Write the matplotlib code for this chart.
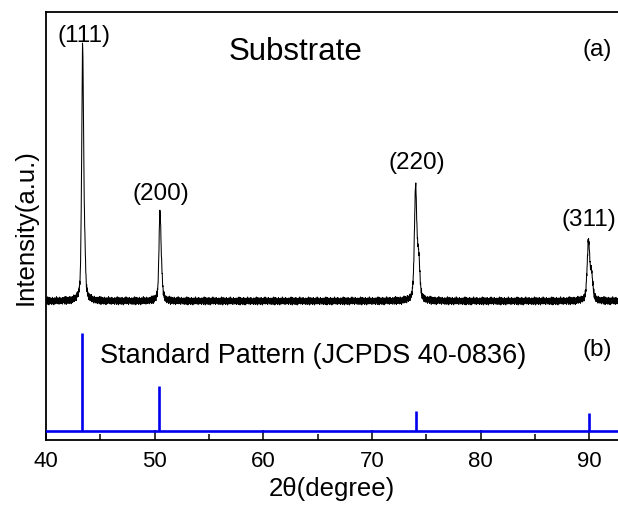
import numpy as np
import matplotlib
matplotlib.use("Agg")
import matplotlib.pyplot as plt
from matplotlib.ticker import MultipleLocator

plt.rcParams['font.family'] = ['Liberation Sans', 'DejaVu Sans']

# ---- data ----
# measured substrate pattern: peak positions (2theta), heights above background, FWHM
peak_pos = [43.37, 43.55, 50.49, 50.65, 74.02, 74.30, 89.93, 90.22]
peak_height = [250, 40, 86, 14, 112, 40, 58, 24]
peak_fwhm = [0.20, 0.20, 0.22, 0.22, 0.26, 0.26, 0.28, 0.28]
background = 139
# background noise (read-off texture, repeated along the scan)
noise = [1.5, -2.0, 3.0, -1.0, 0.5, -3.5, 2.5, -0.5, 4.0, -2.5,
         1.0, -1.5, 2.0, -4.0, 0.0, 3.5, -2.0, 1.5, -3.0, 2.5,
         -1.0, 0.5, 3.0, -2.5, 1.0, -0.5, -3.5, 2.0, 0.5, -1.5,
         3.5, -3.0, 1.0, 2.0, -2.0, 0.0, -4.0, 2.5, 1.5, -1.0,
         -2.5, 3.0, 0.5, -3.0, 2.0, -0.5, 1.5, -2.0, 4.0, -1.5,
         0.0, -3.0, 2.5, 1.0, -2.0, 3.0, -1.0, -2.5, 1.5, 0.5,
         -3.5, 2.0, -0.5, 3.5, -1.5, 0.5, -2.0, 2.5, -3.0, 1.0,
         0.0, 2.0, -2.5, 1.5, -1.0, 3.0, -3.5, 0.5, 1.0, -2.0]

# standard pattern (JCPDS 40-0836)
std_pos = [43.30, 50.44, 74.08, 89.95]
std_int = [98, 45, 20, 18]
std_base = 9.3

x_ticks = [40, 50, 60, 70, 80, 90]
peak_labels = ["(111)", "(200)", "(220)", "(311)"]

# ---- build profile ----
two_theta = np.arange(40.0, 92.7, 0.02)
profile = np.full_like(two_theta, float(background))
for p, h, w in zip(peak_pos, peak_height, peak_fwhm):
    g = np.exp(-4 * np.log(2) * ((two_theta - p) / w) ** 2)
    l = 1.0 / (1.0 + 4 * ((two_theta - p) / w) ** 2)
    profile += h * (0.5 * g + 0.5 * l)
nz = np.array(noise)
profile += nz[np.arange(len(two_theta)) % len(nz)]

# ---- figure ----
fig = plt.figure(figsize=(6.18, 5.06), dpi=100)
ax = fig.add_axes([46 / 618, 65 / 506, 1 - 46 / 618, 428 / 506])

ax.plot(two_theta, profile, color='black', lw=0.75)

ax.axhline(std_base, color='#0000ee', lw=1.9, zorder=3)
ax.vlines(std_pos, std_base, std_base + np.array(std_int), color='#0000ee', lw=1.9, zorder=3)

ax.set_xlim(40, 92.65)
ax.set_ylim(0, 428)
ax.set_xticks(x_ticks)
ax.xaxis.set_minor_locator(MultipleLocator(5))
ax.tick_params(axis='x', which='major', direction='in', length=7, width=1.1,
               labelsize=16, pad=7)
ax.tick_params(axis='x', which='minor', direction='in', length=4, width=1.1)
ax.set_yticks([])
for s in ['left', 'top', 'bottom']:
    ax.spines[s].set_linewidth(1.3)
ax.spines['right'].set_visible(False)

ax.set_xlabel("2θ(degree)", fontsize=18.5, labelpad=4)
ax.set_ylabel("Intensity(a.u.)", fontsize=18.5, labelpad=6)

# annotations (positions in axis units: pixels from bottom of axes)
lab_xy = [(43.5, 405), (50.6, 247), (74.1, 278), (90.0, 221)]
for t, (lx, ly) in zip(peak_labels, lab_xy):
    ax.text(lx, ly, t, fontsize=17.5, ha='center', va='center')
ax.text(63.0, 389, "Substrate", fontsize=22.5, ha='center', va='center')
ax.text(90.75, 391, "(a)", fontsize=17.5, ha='center', va='center')
ax.text(90.75, 91, "(b)", fontsize=17.5, ha='center', va='center')
ax.text(45.0, 85, "Standard Pattern (JCPDS 40-0836)", fontsize=19.5,
        ha='left', va='center')

fig.savefig("out.png", dpi=100)
